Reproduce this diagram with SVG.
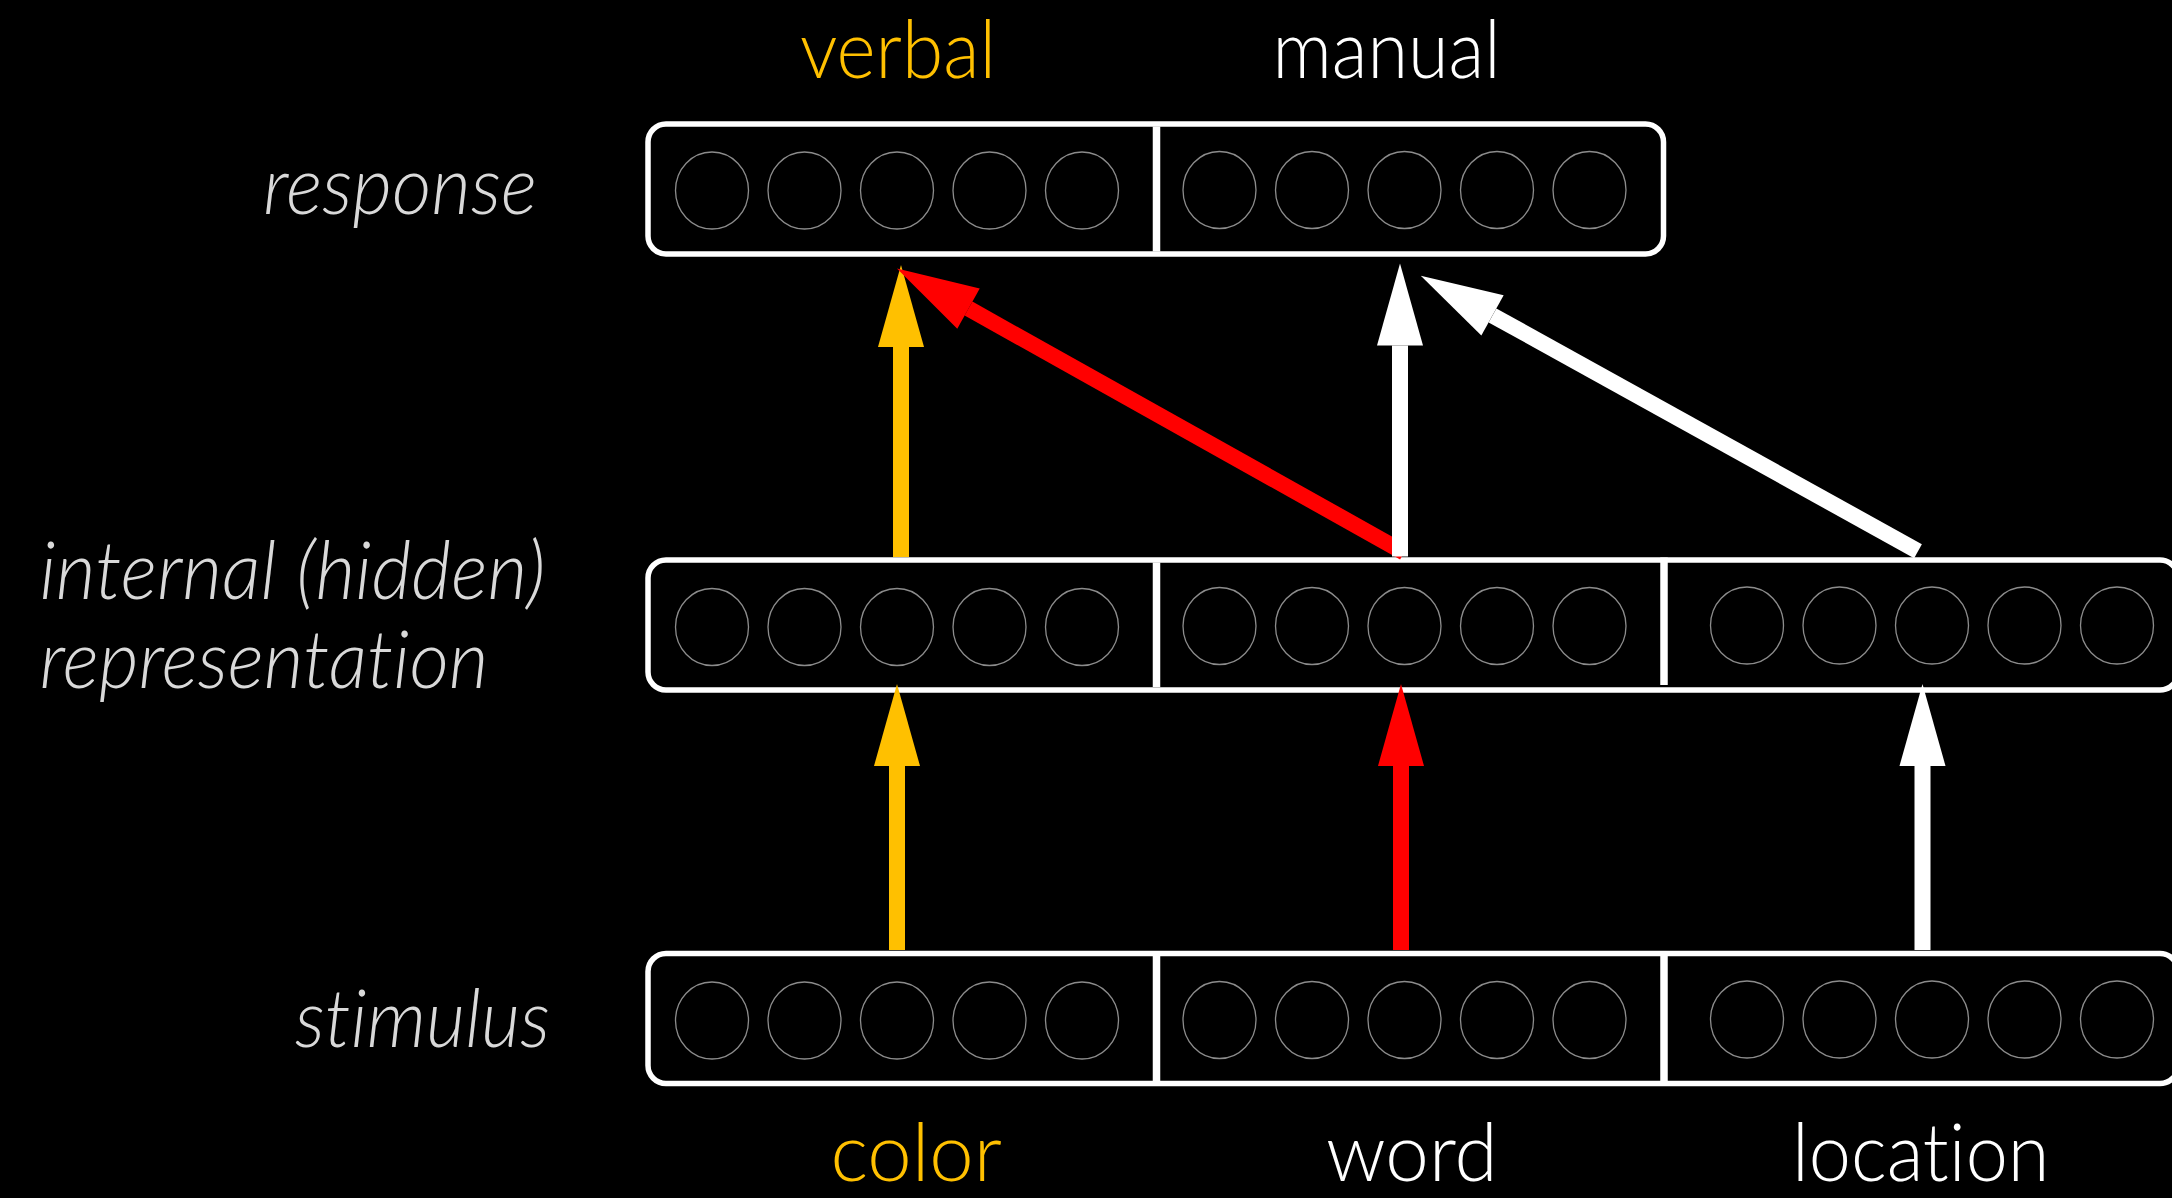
<svg xmlns="http://www.w3.org/2000/svg" xmlns:xlink="http://www.w3.org/1999/xlink" width="2172" height="1198" viewBox="0 0 2172 1198">
  <style>
    .layer { fill: #000000; stroke: #FFFFFF; stroke-width: 5.5; }
    .divider { stroke: #FFFFFF; stroke-width: 7.5; }
    .unit { fill: none; stroke: #8C8C8C; stroke-width: 1.3; }
    .lbl { font-family: "Lato", "Open Sans", "Liberation Sans", sans-serif; font-weight: 300; font-size: 80px; font-variant-ligatures: none; }
    .side { font-style: italic; fill: #D9D9D9; }
    .gold { fill: #FFC000; }
    .white { fill: #FFFFFF; }
    .shaft { stroke-width: 16; fill: none; stroke-linecap: butt; }
    .s-gold { stroke: #FFC000; }
    .s-red { stroke: #FF0000; }
    .s-white { stroke: #FFFFFF; }
  </style>
  <defs>
    <!-- five units of one module -->
    <g id="pool">
      <ellipse class="unit" cx="0" cy="0" rx="36.5" ry="38.5"/>
      <ellipse class="unit" cx="92.5" cy="0" rx="36.5" ry="38.5"/>
      <ellipse class="unit" cx="185" cy="0" rx="36.5" ry="38.5"/>
      <ellipse class="unit" cx="277.5" cy="0" rx="36.5" ry="38.5"/>
      <ellipse class="unit" cx="370" cy="0" rx="36.5" ry="38.5"/>
    </g>
    <marker id="head-gold" markerUnits="userSpaceOnUse" markerWidth="84" markerHeight="48" viewBox="0 -24 84 48" refX="0" refY="0" orient="auto" overflow="visible">
      <path d="M0,-23 L82,0 L0,23 Z" fill="#FFC000"/>
    </marker>
    <marker id="head-red" markerUnits="userSpaceOnUse" markerWidth="84" markerHeight="48" viewBox="0 -24 84 48" refX="0" refY="0" orient="auto" overflow="visible">
      <path d="M0,-23 L82,0 L0,23 Z" fill="#FF0000"/>
    </marker>
    <marker id="head-white" markerUnits="userSpaceOnUse" markerWidth="84" markerHeight="48" viewBox="0 -24 84 48" refX="0" refY="0" orient="auto" overflow="visible">
      <path d="M0,-23 L82,0 L0,23 Z" fill="#FFFFFF"/>
    </marker>
  </defs>

  <rect x="0" y="0" width="2172" height="1198" fill="#000000"/>

  <!-- response layer -->
  <g id="response">
    <rect class="layer" x="648" y="124" width="1015.5" height="130" rx="18" ry="18"/>
    <line class="divider" x1="1156.5" y1="126.5" x2="1156.5" y2="251.5"/>
    <g id="response-verbal"><use xlink:href="#pool" x="712" y="190.5"/></g>
    <g id="response-manual"><use xlink:href="#pool" x="1219.5" y="190"/></g>
  </g>

  <!-- internal (hidden) layer -->
  <g id="hidden">
    <rect class="layer" x="648" y="560" width="1530" height="130" rx="18" ry="18"/>
    <line class="divider" x1="1156.5" y1="562.5" x2="1156.5" y2="687"/>
    <line class="divider" x1="1664" y1="557.5" x2="1664" y2="685"/>
    <g id="hidden-color"><use xlink:href="#pool" x="712" y="627"/></g>
    <g id="hidden-word"><use xlink:href="#pool" x="1219.5" y="626"/></g>
    <g id="hidden-location"><use xlink:href="#pool" x="1747" y="625.5"/></g>
  </g>

  <!-- stimulus layer -->
  <g id="stimulus">
    <rect class="layer" x="648" y="953.5" width="1530" height="130" rx="18" ry="18"/>
    <line class="divider" x1="1156.5" y1="956" x2="1156.5" y2="1081"/>
    <line class="divider" x1="1664" y1="956" x2="1664" y2="1081"/>
    <g id="stimulus-color"><use xlink:href="#pool" x="712" y="1020.5"/></g>
    <g id="stimulus-word"><use xlink:href="#pool" x="1219.5" y="1020"/></g>
    <g id="stimulus-location"><use xlink:href="#pool" x="1747" y="1019.5"/></g>
  </g>

  <!-- connections -->
  <g id="connectors">
    <line class="shaft s-gold" x1="901" y1="557" x2="901" y2="347" marker-end="url(#head-gold)"/>
    <line class="shaft s-red" x1="1404" y1="552.4" x2="968.5" y2="308.6" marker-end="url(#head-red)"/>
    <line class="shaft s-white" x1="1400" y1="556.5" x2="1400" y2="345.5" marker-end="url(#head-white)"/>
    <line class="shaft s-white" x1="1918" y1="551.2" x2="1492.5" y2="315.4" marker-end="url(#head-white)"/>
    <line class="shaft s-gold" x1="897" y1="950" x2="897" y2="766" marker-end="url(#head-gold)"/>
    <line class="shaft s-red" x1="1401" y1="950" x2="1401" y2="766" marker-end="url(#head-red)"/>
    <line class="shaft s-white" x1="1922.5" y1="950" x2="1922.5" y2="766" marker-end="url(#head-white)"/>
  </g>

  <!-- labels -->
  <g id="labels">
    <text class="lbl gold" x="800" y="78" textLength="196" lengthAdjust="spacingAndGlyphs">verbal</text>
    <text class="lbl white" x="1272.5" y="78" textLength="228" lengthAdjust="spacingAndGlyphs">manual</text>
    <text class="lbl side" x="263" y="214" textLength="274" lengthAdjust="spacingAndGlyphs">response</text>
    <text class="lbl side" x="39.5" y="599" textLength="506" lengthAdjust="spacingAndGlyphs">internal (hidden)</text>
    <text class="lbl side" x="39.5" y="688" textLength="449" lengthAdjust="spacingAndGlyphs">representation</text>
    <text class="lbl side" x="295" y="1047" textLength="255" lengthAdjust="spacingAndGlyphs">stimulus</text>
    <text class="lbl gold" x="830.5" y="1181" textLength="171.5" lengthAdjust="spacingAndGlyphs">color</text>
    <text class="lbl white" x="1326" y="1181" textLength="171.5" lengthAdjust="spacingAndGlyphs">word</text>
    <text class="lbl white" x="1792" y="1181" textLength="257.5" lengthAdjust="spacingAndGlyphs">location</text>
  </g>
</svg>
